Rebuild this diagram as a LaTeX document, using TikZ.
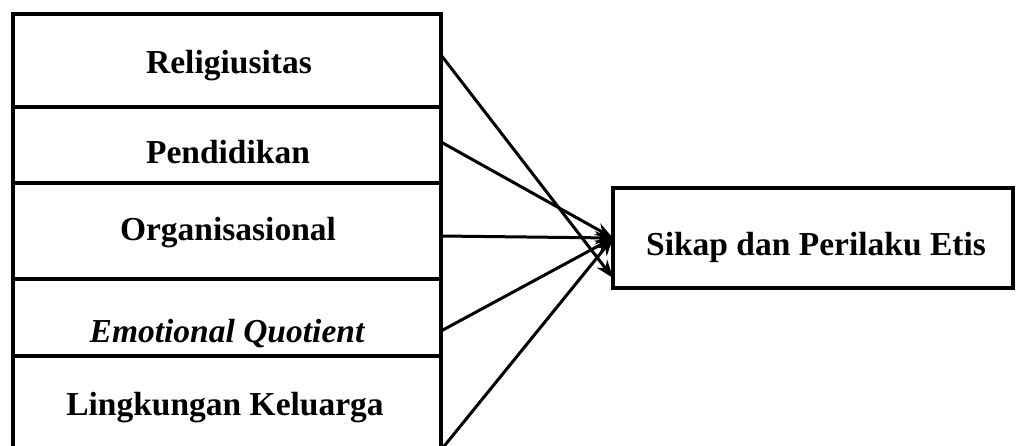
\documentclass[tikz,border=0pt]{standalone}
\usepackage{fontspec}
\setmainfont{Liberation Serif}
\usetikzlibrary{arrows.meta}
\begin{document}
\begin{tikzpicture}[x=1pt,y=-1pt,
  box/.style={draw,line width=3.2pt,rectangle,inner sep=0pt,outer sep=0pt},
  lbl/.style={font=\fontsize{33.5}{40}\selectfont\bfseries,anchor=base,inner sep=0pt},
  conn/.style={line width=3pt,-{Stealth[length=18pt,width=13pt]}}]
\useasboundingbox (0,0) rectangle (1016,445);
% left column of boxes
\node[box,minimum width=428pt,minimum height=93pt] (b1) at (227,60.5) {};
\node[box,minimum width=428pt,minimum height=76pt] (b2) at (227,145) {};
\node[box,minimum width=428pt,minimum height=96pt] (b3) at (227,231) {};
\node[box,minimum width=428pt,minimum height=77pt] (b4) at (227,317.5) {};
\node[box,minimum width=428pt,minimum height=124pt] (b5) at (227,418) {};
\node[lbl] (t1) at (229,73) {Religiusitas};
\node[lbl] (t2) at (228,163) {Pendidikan};
\node[lbl] (t3) at (228,240) {Organisasional};
\node[lbl,font=\fontsize{33.5}{40}\selectfont\bfseries\itshape] (t4) at (227,342) {Emotional Quotient};
\node[lbl] (t5) at (225,415) {Lingkungan Keluarga};
% right box
\node[box,minimum width=400pt,minimum height=100pt] (s) at (813,238) {};
\node[lbl] (ts) at (816,255) {Sikap dan Perilaku Etis};
% connectors
\draw[conn] ([yshift=5.5pt]b1.east) -- ([yshift=-40pt]s.west);
\draw[conn] ([yshift=3pt]b2.east) -- (s.west);
\draw[conn] ([yshift=-5pt]b3.east) -- (s.west);
\draw[conn] ([yshift=-13.5pt]b4.east) -- (s.west);
\draw[conn] ([yshift=-32pt]b5.east) -- (s.west);
\end{tikzpicture}
\end{document}
